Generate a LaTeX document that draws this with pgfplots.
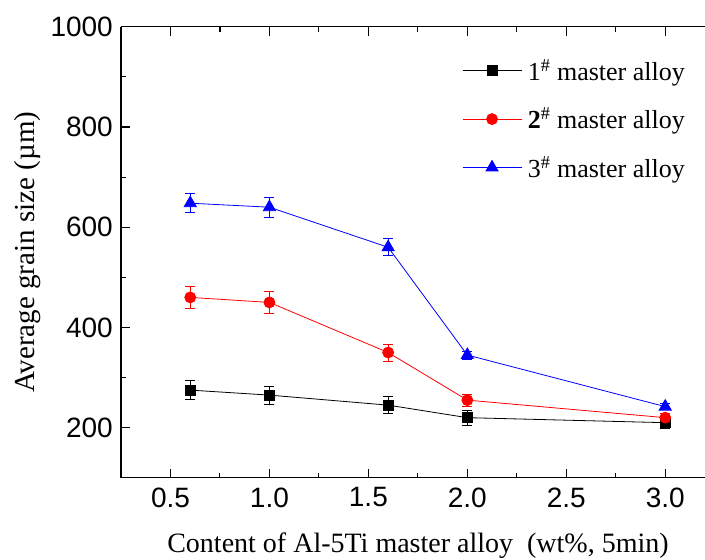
\documentclass[border=0pt]{standalone}
\usepackage{pgfplots}
\pgfplotsset{compat=1.18}
\usepackage{fontspec}
\setmainfont{Liberation Serif}
\newfontfamily\arialfont{Liberation Sans}
\begin{document}
\begin{tikzpicture}
\pgfplotsset{
  commonaxis/.style={
    at={(0,0)}, anchor=south west,
    scale only axis, width=583.8bp, height=451bp,
    xmin=0.25, xmax=3.2, ymin=100, ymax=1000,
    xtick={0.5,1.0,1.5,2.0,2.5,3.0}, minor x tick num=1,
    ytick={200,400,600,800,1000}, minor y tick num=1,
    tick align=inside,
    major tick length=9bp, minor tick length=5bp,
    tick style={line width=1.1bp, black},
    axis line style={line width=1.3bp, -},
  }
}
\begin{axis}[commonaxis,
  axis x line*=bottom, axis y line*=left,
  /pgf/number format/assume math mode=true,
  tick label style={font=\fontsize{28bp}{28bp}\arialfont},
  xticklabel style={/pgf/number format/.cd, fixed, fixed zerofill, precision=1, /tikz/.cd, inner sep=0pt, anchor=north, yshift=-9.5bp},
  yticklabel style={/pgf/number format/.cd, fixed, 1000 sep={}, /tikz/.cd, inner sep=0pt, anchor=east, xshift=-8bp},
  xlabel={Content of Al-5Ti master alloy\ \ (wt\%, 5min)},
  ylabel={Average grain size (\textmu m)},
  every axis x label/.style={at={(axis description cs:0.5087,-0.1667)}, anchor=base, font=\fontsize{28bp}{28bp}\selectfont},
  every axis y label/.style={at={(axis description cs:-0.1593,0.5)}, anchor=center, rotate=90, font=\fontsize{29bp}{29bp}\selectfont},
  legend style={draw=none, fill=none, at={(axis description cs:0.584,0.928)}, anchor=north west,
    font=\fontsize{26bp}{26bp}\selectfont, inner sep=0pt, row sep=26bp, column sep=6bp,
    nodes={inner sep=0pt}},
  legend cell align=left,
  legend image code/.code={
    \draw[#1, mark=none] (0bp,0bp) -- (59bp,0bp);
    \draw[#1, only marks, mark repeat=2, mark phase=2] plot coordinates {(0bp,0bp) (29.5bp,0bp) (59bp,0bp)};
  },
  error bars/error bar style={line width=0.8bp},
  error bars/error mark options={rotate=90, mark size=5bp, line width=0.8bp},
]
\addplot[black, line width=0.8bp, mark=square*, mark size=5bp,
  error bars/.cd, y dir=both, y explicit] coordinates {
  (0.6,275) +- (0,19)
  (1.0,265) +- (0,18)
  (1.6,245) +- (0,17)
  (2.0,220) +- (0,15)
  (3.0,210) +- (0,12)
};
\addlegendentry{1\textsuperscript{\#} master alloy}
\addplot[red, line width=0.8bp, mark=*, mark size=5.5bp,
  error bars/.cd, y dir=both, y explicit] coordinates {
  (0.6,460) +- (0,22)
  (1.0,450) +- (0,22)
  (1.6,350) +- (0,17)
  (2.0,255) +- (0,12)
  (3.0,220) +- (0,8)
};
\addlegendentry{\textbf{2}\textsuperscript{\#} master alloy}
\addplot[blue, line width=0.8bp, mark=triangle*, mark size=7bp,
  error bars/.cd, y dir=both, y explicit] coordinates {
  (0.6,648) +- (0,19)
  (1.0,640) +- (0,20)
  (1.6,560) +- (0,17)
  (2.0,345) +- (0,8)
  (3.0,242) +- (0,6)
};
\addlegendentry{3\textsuperscript{\#} master alloy}
\end{axis}
\begin{axis}[commonaxis,
  axis x line*=top, hide y axis,
  xticklabels={}, 
]
\end{axis}
\pgfresetboundingbox
\path (-121bp,-82.2bp) rectangle (584bp,477.8bp);
\end{tikzpicture}
\end{document}
